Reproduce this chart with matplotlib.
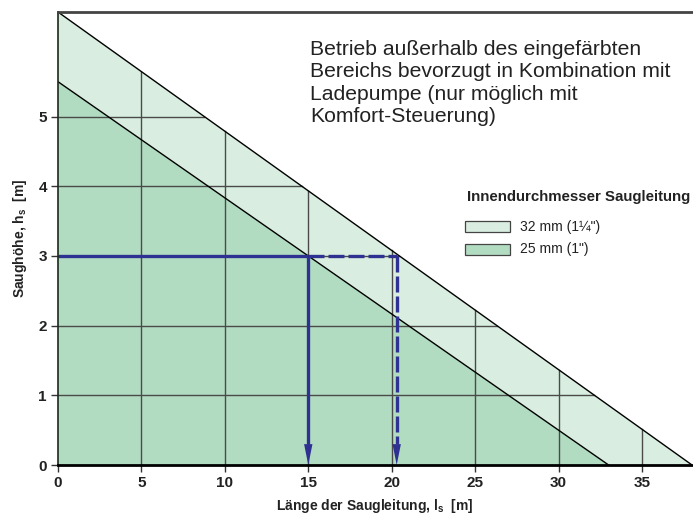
import matplotlib
matplotlib.use("Agg")
import matplotlib.pyplot as plt
from matplotlib.patches import Rectangle, Polygon
import numpy as np

plt.rcParams['font.family'] = ['Liberation Sans', 'DejaVu Sans']

# Data: suction height limits (triangle intercepts)
series_labels = ['32 mm (1¼")', '25 mm (1")']
max_height = [6.5, 5.5]      # h_s at l_s = 0 [m]
max_length = [38.0, 33.0]    # l_s at h_s = 0 [m]
fill_colors = ['#d9ede0', '#b2dcc1']

x_ticks = [0, 5, 10, 15, 20, 25, 30, 35]
y_ticks = [0, 1, 2, 3, 4, 5]

example_height = 3.0
example_lengths = [15.0, 20.3]   # 25 mm, 32 mm reading

blue = '#2e3192'

fig = plt.figure(figsize=(6.93, 5.18), dpi=100)
ax = fig.add_axes([0.0837, 0.1023, 0.9149, 0.8745])
ax.set_xlim(0, max_length[0])
ax.set_ylim(0, max_height[0])

# triangles
for h0, l0, c in zip(max_height, max_length, fill_colors):
    ax.add_patch(Polygon([(0, 0), (0, h0), (l0, 0)], closed=True,
                         facecolor=c, edgecolor='none', zorder=1))

# grid clipped to outer triangle
h0, l0 = max_height[0], max_length[0]
for xv in x_ticks[1:]:
    ytop = h0 * (1 - xv / l0)
    ax.plot([xv, xv], [0, ytop], color='#4a4a4a', lw=1.0, zorder=2)
for yv in y_ticks[1:]:
    xr = l0 * (1 - yv / h0)
    ax.plot([0, xr], [yv, yv], color='#4a4a4a', lw=1.0, zorder=2)

# boundary lines
for h, l in zip(max_height, max_length):
    ax.plot([0, l], [h, 0], color='black', lw=1.0, zorder=3)

# example reading
lw = 2.4
dash = (0, (16 / lw * 0.72, 4 / lw * 0.72))
xs, xd = example_lengths
yy = example_height
ax.plot([0, xs], [yy, yy], color=blue, lw=lw, solid_capstyle='butt', zorder=5)
ax.plot([xs, xd], [yy, yy], color=blue, lw=lw, linestyle=dash, zorder=5)
ax.plot([xs, xs], [yy, 0.3], color=blue, lw=lw, solid_capstyle='butt', zorder=5)
ax.plot([xd, xd], [yy, 0.3], color=blue, lw=lw, linestyle=dash, zorder=5)
for xv in example_lengths:
    ax.annotate('', xy=(xv, 0), xytext=(xv, 0.4),
                arrowprops=dict(arrowstyle='-|>,head_length=1.5,head_width=0.3',
                                color=blue, lw=0.01, shrinkA=0, shrinkB=0),
                zorder=6)

# spines
ax.spines['right'].set_visible(False)
ax.spines['top'].set_color('#444444')
ax.spines['top'].set_linewidth(2.0)
ax.spines['left'].set_color('#1a2a1a')
ax.spines['left'].set_linewidth(1.2)
ax.spines['bottom'].set_color('black')
ax.spines['bottom'].set_linewidth(2.0)
for s in ax.spines.values():
    s.set_zorder(7)

ax.set_xticks(x_ticks)
ax.set_yticks(y_ticks)
ax.set_xticklabels([str(v) for v in x_ticks], fontsize=11, fontweight='bold', color='#222222')
ax.set_yticklabels([str(v) for v in y_ticks], fontsize=11, fontweight='bold', color='#222222')
ax.tick_params(axis='both', length=5, width=1.0, color='#333333', pad=3)

ax.set_xlabel('Länge der Saugleitung, l$_\\mathregular{s}$  [m]', fontsize=10, fontweight='bold',
              color='#222222', labelpad=5)
ax.set_ylabel('Saughöhe, h$_\\mathregular{s}$  [m]', fontsize=10, fontweight='bold',
              color='#222222', labelpad=7)

# annotation
fig.text(310 / 693, 1 - 40 / 518,
         'Betrieb außerhalb des eingefärbten\nBereichs bevorzugt in Kombination mit\n'
         'Ladepumpe (nur möglich mit\nKomfort-Steuerung)',
         fontsize=15.2, color='#222222', va='top', ha='left', linespacing=1.22)

# legend (manual)
fig.text(467 / 693, 1 - 197 / 518, 'Innendurchmesser Saugleitung', fontsize=10.8,
         fontweight='bold', color='#222222', va='center', ha='left')
for i, (lab, c) in enumerate(zip(series_labels, fill_colors)):
    yc = 227 + 22 * i
    fig.patches.append(Rectangle((465 / 693, 1 - (yc + 5.5) / 518), 45 / 693, 11 / 518,
                                 transform=fig.transFigure, facecolor=c,
                                 edgecolor='#444444', lw=0.9))
    fig.text(520 / 693, 1 - yc / 518, lab, fontsize=10, color='#222222',
             va='center', ha='left')

fig.savefig('out.png', dpi=100)
